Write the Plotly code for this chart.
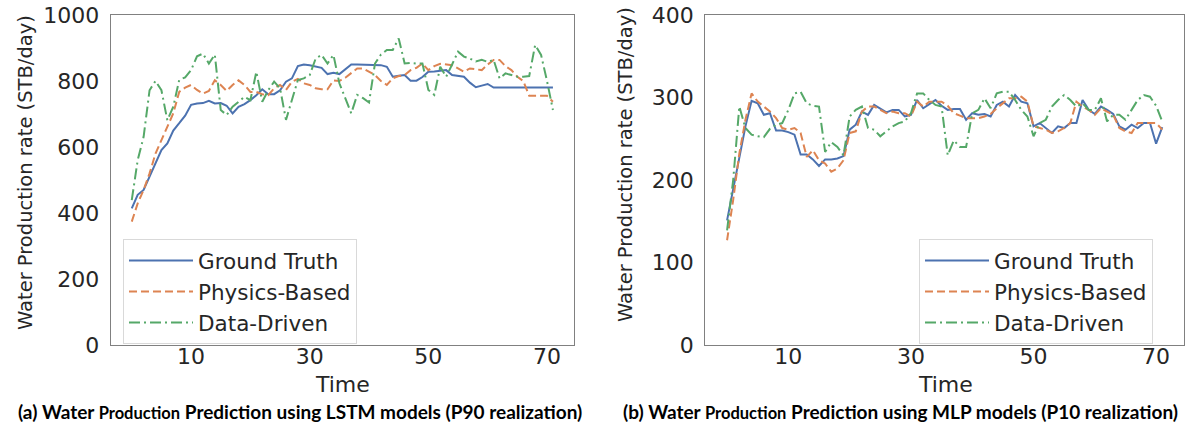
import plotly.graph_objects as go

time = list(range(72))

# Left panel (LSTM, P90) values
lstm_truth = [414, 455, 470, 510, 555, 591, 611, 650, 672, 695, 728, 732, 733, 740, 732, 733,
              725, 702, 722, 730, 742, 757, 775, 760, 760, 772, 798, 808, 845, 850, 848, 843,
              840, 821, 825, 821, 835, 850, 850, 850, 850, 850, 848, 843, 813, 816, 818, 801,
              801, 812, 828, 829, 830, 833, 818, 815, 813, 795, 781, 786, 791, 780, 780, 780,
              780, 780, 780, 780, 780, 780, 780, 780]
lstm_physics = [374, 429, 470, 520, 580, 620, 661, 702, 767, 780, 788, 773, 762, 770, 802, 788,
                770, 788, 802, 788, 767, 767, 760, 757, 778, 788, 773, 798, 806, 793, 788, 778,
                775, 775, 802, 800, 810, 825, 838, 838, 828, 818, 800, 788, 808, 815, 818, 833,
                840, 853, 833, 845, 852, 850, 848, 838, 828, 838, 835, 833, 850, 864, 864, 845,
                833, 813, 800, 755, 755, 755, 755, 737]
lstm_data = [439, 560, 631, 772, 800, 772, 681, 722, 803, 811, 833, 875, 883, 853, 880, 712,
             697, 722, 737, 752, 742, 828, 737, 772, 798, 778, 682, 742, 803, 808, 818, 868,
             879, 853, 879, 793, 745, 702, 758, 748, 735, 853, 880, 894, 894, 929, 853, 855,
             853, 853, 773, 758, 843, 813, 850, 889, 874, 868, 859, 864, 858, 864, 808, 823,
             818, 813, 813, 815, 909, 879, 800, 712]

# Right panel (MLP, P10) values
mlp_truth = [151, 190, 228, 265, 296, 293, 279, 281, 260, 260, 258, 255, 231, 231, 225, 217,
             225, 225, 226, 229, 261, 267, 283, 279, 291, 287, 282, 285, 285, 277, 279, 297,
             287, 292, 297, 290, 285, 286, 286, 273, 281, 279, 280, 277, 291, 295, 289, 303,
             295, 293, 265, 269, 263, 257, 265, 263, 269, 269, 297, 285, 280, 289, 285, 280,
             265, 261, 267, 263, 269, 269, 244, 264]
mlp_physics = [127, 176, 232, 273, 305, 295, 289, 283, 275, 263, 261, 263, 257, 228, 236, 224,
               220, 210, 214, 224, 257, 259, 283, 289, 289, 285, 281, 283, 281, 281, 277, 295,
               289, 295, 295, 295, 290, 281, 278, 275, 275, 275, 277, 280, 287, 293, 299, 299,
               301, 295, 265, 263, 261, 257, 259, 263, 269, 295, 289, 285, 279, 287, 283, 279,
               263, 259, 257, 269, 269, 269, 269, 261]
mlp_data = [139, 200, 289, 263, 255, 253, 252, 262, 267, 269, 285, 305, 307, 293, 290, 289,
            234, 246, 240, 230, 277, 285, 289, 263, 261, 253, 259, 265, 269, 271, 281, 305,
            305, 297, 291, 289, 230, 248, 240, 240, 281, 285, 299, 287, 305, 307, 307, 297,
            285, 277, 253, 269, 273, 289, 297, 303, 297, 289, 293, 285, 285, 299, 271, 279,
            279, 273, 285, 297, 303, 301, 290, 271]

series_names = ["Ground Truth", "Physics-Based", "Data-Driven"]
x_ticks = [10, 30, 50, 70]
left_yticks = [0, 200, 400, 600, 800, 1000]
right_yticks = [0, 100, 200, 300, 400]
y_title = "Water Production rate (STB/day)"
x_title = "Time"
caption_left = ("(a) Water <span style='font-size:16.5px'>Production</span> "
                "Prediction using LSTM models (P90 realization)")
caption_right = ("(b) Water <span style='font-size:16.5px'>Production</span> "
                 "Prediction using MLP models (P10 realization)")

colors = ["#4C72B0", "#DD8452", "#55A868"]
dashes = ["solid", "8px,4px", "11px,4px,2px,4px"]

W, H = 1189, 429
TOP, BOT = 15, 345
font_fam = "DejaVu Sans"
txt_col = "#262626"

fig = go.Figure()
for i, ys in enumerate([lstm_truth, lstm_physics, lstm_data]):
    fig.add_trace(go.Scatter(x=time, y=ys, mode="lines", name=series_names[i],
                             line=dict(color=colors[i], width=2, dash=dashes[i]),
                             xaxis="x", yaxis="y", legend="legend"))
for i, ys in enumerate([mlp_truth, mlp_physics, mlp_data]):
    fig.add_trace(go.Scatter(x=time, y=ys, mode="lines", name=series_names[i],
                             line=dict(color=colors[i], width=2, dash=dashes[i]),
                             xaxis="x2", yaxis="y2", legend="legend2"))

def px_x(p):
    return p / W

def px_y(p):
    return (BOT - p) / (BOT - TOP)

axis_common = dict(showgrid=False, zeroline=False, showline=True, mirror=True,
                   linecolor="#808080", linewidth=1.3, ticks="",
                   tickfont=dict(family=font_fam, size=22, color=txt_col))

legend_common = dict(xanchor="left", yanchor="top",
                     bgcolor="rgba(255,255,255,0.8)", bordercolor="#d9d9d9", borderwidth=1,
                     font=dict(family=font_fam, size=21.5, color=txt_col),
                     tracegroupgap=0, itemwidth=64)

fig.update_layout(
    width=W, height=H,
    margin=dict(l=0, r=0, t=TOP, b=H - BOT),
    paper_bgcolor="white", plot_bgcolor="white",
    xaxis=dict(domain=[px_x(110.7), px_x(574)], range=[-3.55, 74.55],
               tickvals=x_ticks, anchor="y", ticklabelstandoff=-9, **axis_common),
    yaxis=dict(domain=[0, 1], range=[0, 1000], tickvals=left_yticks, anchor="x",
               ticklabelstandoff=6, **axis_common),
    xaxis2=dict(domain=[px_x(705.3), px_x(1184)], range=[-3.55, 74.55],
                tickvals=x_ticks, anchor="y2", ticklabelstandoff=-9, **axis_common),
    yaxis2=dict(domain=[0, 1], range=[0, 400], tickvals=right_yticks, anchor="x2",
                ticklabelstandoff=6, **axis_common),
    legend=dict(x=px_x(123), y=px_y(239), **legend_common),
    legend2=dict(x=px_x(919), y=px_y(239), **legend_common),
    showlegend=True,
)

annos = [
    dict(text=y_title, x=px_x(25), y=px_y(173), textangle=-90),
    dict(text=y_title, x=px_x(625), y=px_y(165), textangle=-90),
]
for a in annos:
    a.update(xref="paper", yref="paper", showarrow=False, xanchor="center",
             yanchor="middle", font=dict(family=font_fam, size=19.5, color=txt_col))
    fig.add_annotation(**a)

for cx in [342, 945]:
    fig.add_annotation(text=x_title, x=px_x(cx), y=px_y(384), xref="paper", yref="paper",
                       showarrow=False, xanchor="center", yanchor="middle",
                       font=dict(family=font_fam, size=22, color=txt_col))

for cx, cap in [(300, caption_left), (900, caption_right)]:
    fig.add_annotation(text="<b>" + cap + "</b>", x=px_x(cx), y=px_y(411), xref="paper",
                       yref="paper", showarrow=False, xanchor="center", yanchor="middle",
                       font=dict(family="Lato", size=19, color="black"))

fig.write_html("out.html")
